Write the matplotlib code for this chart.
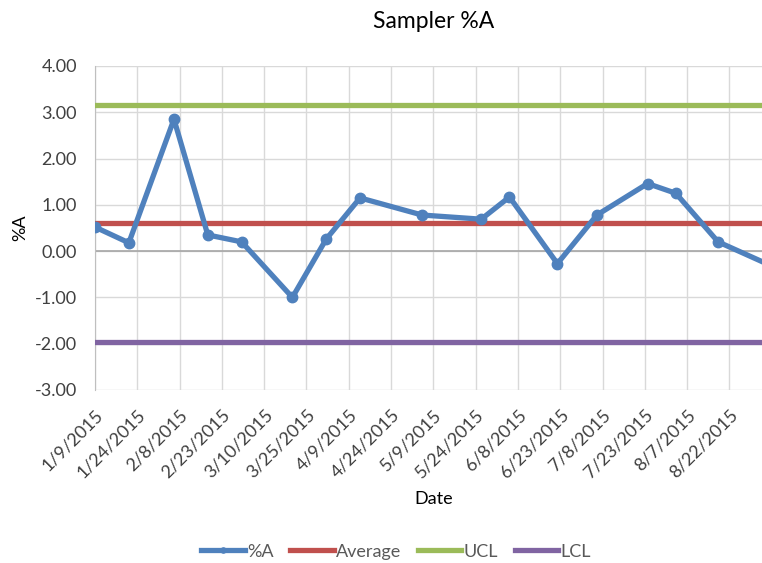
import matplotlib.pyplot as plt
import pandas as pd

# Sampler readings
sample_dates = ['2015-01-09', '2015-01-21', '2015-02-06', '2015-02-18', '2015-03-02',
                '2015-03-20', '2015-04-01', '2015-04-13', '2015-05-05', '2015-05-26',
                '2015-06-05', '2015-06-22', '2015-07-06', '2015-07-24', '2015-08-03',
                '2015-08-18', '2015-09-06']
pct_a = [0.52, 0.18, 2.85, 0.35, 0.20, -1.00, 0.26, 1.15, 0.78, 0.69,
         1.17, -0.27, 0.78, 1.46, 1.25, 0.20, -0.32]

# control limits
average = 0.60
ucl = 3.15
lcl = -1.97

x_start = '2015-01-09'
x_end = '2015-09-06'
tick_step_days = 15

dates = pd.to_datetime(sample_dates)
n = len(dates)

plt.rcParams['font.family'] = ['Lato', 'DejaVu Sans']

fig = plt.figure(figsize=(7.62, 5.63), dpi=100)
ax = fig.add_axes([0.1247, 0.3073, 0.888, 0.5755])

ax.plot(dates, [average] * n, color='#C0504D', lw=3.8, label='Average', zorder=3)
ax.plot(dates, [ucl] * n, color='#9BBB59', lw=3.8, label='UCL', zorder=3)
ax.plot(dates, [lcl] * n, color='#8064A2', lw=3.8, label='LCL', zorder=3)
ax.plot(dates, pct_a, color='#4F81BD', lw=3.8, marker='o', ms=7.5,
        label='%A', zorder=4, solid_joinstyle='round')

ax.set_xlim(pd.Timestamp(x_start), pd.Timestamp(x_end))
ax.set_ylim(-3, 4)

ticks = pd.date_range(x_start, '2015-08-22', freq=f'{tick_step_days}D')
ax.set_xticks(ticks)
ax.set_xticklabels([f'{d.month}/{d.day}/{d.year}' for d in ticks],
                   rotation=45, ha='right', rotation_mode='anchor')
ax.set_yticks(range(-3, 5))
ax.set_yticklabels([f'{v:.2f}' for v in range(-3, 5)])
ax.tick_params(axis='both', length=0, labelsize=13, colors='#404040')
ax.tick_params(axis='y', pad=13)
ax.tick_params(axis='x', pad=12)

ax.grid(True, color='#D9D9D9', lw=1)
ax.set_axisbelow(True)
ax.axhline(0, color='#A6A6A6', lw=1.2, zorder=1)
for side in ['top', 'right', 'bottom']:
    ax.spines[side].set_visible(False)
ax.spines['left'].set_color('#BFBFBF')

ax.set_title('Sampler %A', fontsize=16.5, color='#000000', pad=27)
ax.set_xlabel('Date', fontsize=13, color='#000000', labelpad=7)
ax.set_ylabel('%A', fontsize=13, color='#000000', labelpad=5)

handles, labels = ax.get_legend_handles_labels()
order = [3, 0, 1, 2]
fig.legend([handles[i] for i in order], [labels[i] for i in order],
           loc='center', bbox_to_anchor=(0.52, 0.02), ncol=4, frameon=False,
           fontsize=13, labelcolor='#595959', handlelength=2.4,
           columnspacing=0.9, handletextpad=0.15, markerscale=0.5)

fig.savefig('out.png', dpi=100)
